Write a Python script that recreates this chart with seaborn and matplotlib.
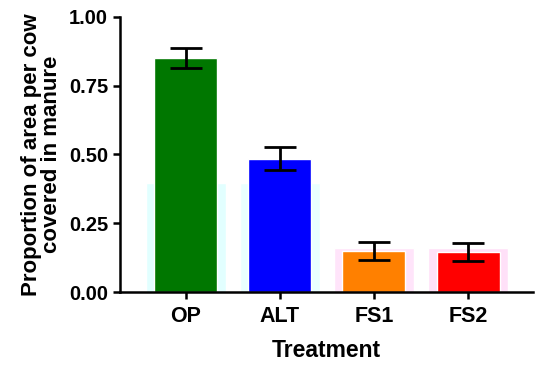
import numpy as np
import pandas as pd
import matplotlib
matplotlib.use("Agg")
import matplotlib.pyplot as plt
import seaborn as sns

# === Data ===
treatments = ["OP", "ALT", "FS1", "FS2"]
means = [0.85, 0.485, 0.15, 0.145]
errors = [0.036, 0.042, 0.033, 0.033]
bar_colors = ["#007700", "#0000ff", "#ff8000", "#ff0000"]

# faint halo rectangles visible behind the bars
halo_values = [0.395, 0.395, 0.16, 0.16]
halo_colors = ["#e2ffff", "#eaffff", "#ffe4fa", "#ffe0f8"]

df = pd.DataFrame({"Treatment": treatments, "mean": means, "err": errors, "halo": halo_values})

sns.set_style("ticks")
plt.rcParams["font.family"] = ["Liberation Sans", "DejaVu Sans"]
plt.rcParams["font.weight"] = "bold"
plt.rcParams["text.color"] = "black"
plt.rcParams["axes.labelcolor"] = "black"
plt.rcParams["xtick.color"] = "black"
plt.rcParams["ytick.color"] = "black"

fig = plt.figure(figsize=(5.5, 3.68), dpi=100)
ax = fig.add_axes([0.218, 0.2065, 0.751, 0.7475])

# === halo layer, then the real bars ===
sns.barplot(data=df, x="Treatment", y="halo", hue="Treatment", palette=halo_colors,
            width=0.85, saturation=1, legend=False, ax=ax, zorder=1)
sns.barplot(data=df, x="Treatment", y="mean", hue="Treatment", palette=bar_colors,
            width=0.67, saturation=1, legend=False, ax=ax, zorder=2)
ax.errorbar(np.arange(len(treatments)), df["mean"], yerr=df["err"], fmt="none",
            ecolor="black", elinewidth=2, capsize=11.5, capthick=2, zorder=3)

ax.set_xlim(-0.70, 3.69)
ax.set_ylim(0, 1.0)
ax.set_yticks([0, 0.25, 0.5, 0.75, 1.0])
ax.set_yticklabels(["0.00", "0.25", "0.50", "0.75", "1.00"])

ax.set_xlabel("Treatment", fontsize=16.5, fontweight="bold", labelpad=9)
ax.set_ylabel("Proportion of area per cow\ncovered in manure", fontsize=16,
              fontweight="bold", labelpad=5, linespacing=0.95)
ax.tick_params(axis="both", width=1.8, length=5, labelsize=14.5, color="black")
ax.tick_params(axis="x", labelsize=15.5, pad=5)
for lab in ax.get_xticklabels() + ax.get_yticklabels():
    lab.set_fontweight("bold")

sns.despine(ax=ax)
for side in ["left", "bottom"]:
    ax.spines[side].set_linewidth(1.8)
    ax.spines[side].set_color("black")

plt.savefig("out.png", dpi=100)
plt.close()
